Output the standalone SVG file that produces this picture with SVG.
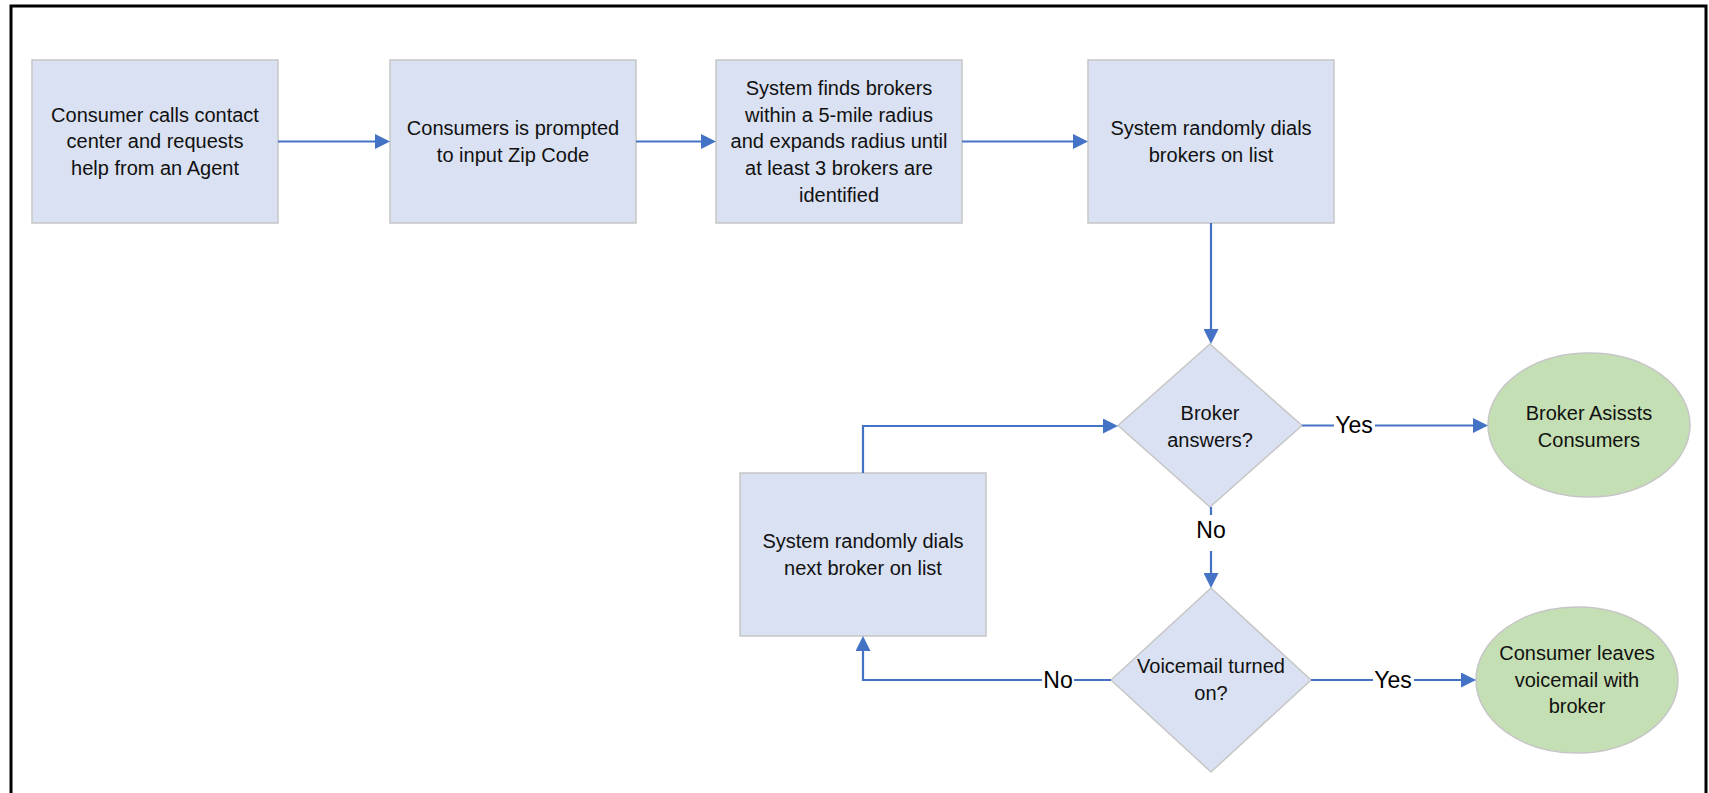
<svg xmlns="http://www.w3.org/2000/svg" width="1709" height="793" viewBox="0 0 1709 793">
<style>
.box{fill:#DAE1F2;stroke:#C6C6C6;stroke-width:1.5}
.term{fill:#C5DFB4;stroke:#C6C6C6;stroke-width:1.5}
.t{font-family:"Liberation Sans",Arial,sans-serif;font-size:20px;fill:#111;text-anchor:middle}
.lbl{font-family:"Liberation Sans",Arial,sans-serif;font-size:23px;fill:#000;text-anchor:middle}
.c{fill:none;stroke:#4472C4;stroke-width:2.2}
.bg{fill:#fff}
</style>
<defs>
<marker id="ah" viewBox="0 0 15 15" refX="10" refY="7.5" markerWidth="15" markerHeight="15" markerUnits="userSpaceOnUse" orient="auto">
<path d="M0,0 L15,7.5 L0,15 z" fill="#4472C4"/>
</marker>
</defs>
<rect x="0" y="0" width="1709" height="793" fill="#fff"/>
<rect id="frame" x="11" y="6" width="1695" height="800" fill="none" stroke="#000" stroke-width="3"/>

<g id="n1">
<rect class="box" x="32" y="60" width="246" height="163"/>
<text class="t" x="155" y="121.7">Consumer calls contact</text>
<text class="t" x="155" y="148.4">center and requests</text>
<text class="t" x="155" y="175.1">help from an Agent</text>
</g>
<g id="n2">
<rect class="box" x="390" y="60" width="246" height="163"/>
<text class="t" x="513" y="135">Consumers is prompted</text>
<text class="t" x="513" y="161.7">to input Zip Code</text>
</g>
<g id="n3">
<rect class="box" x="716" y="60" width="246" height="163"/>
<text class="t" x="839" y="95">System finds brokers</text>
<text class="t" x="839" y="121.7">within a 5-mile radius</text>
<text class="t" x="839" y="148.4">and expands radius until</text>
<text class="t" x="839" y="175.1">at least 3 brokers are</text>
<text class="t" x="839" y="201.8">identified</text>
</g>
<g id="n4">
<rect class="box" x="1088" y="60" width="246" height="163"/>
<text class="t" x="1211" y="135">System randomly dials</text>
<text class="t" x="1211" y="161.7">brokers on list</text>
</g>
<g id="d1">
<polygon class="box" points="1210,344 1302,425.5 1210,507 1118,425.5"/>
<text class="t" x="1210" y="420">Broker</text>
<text class="t" x="1210" y="446.7">answers?</text>
</g>
<g id="e1">
<ellipse class="term" cx="1589" cy="425" rx="101" ry="72"/>
<text class="t" x="1589" y="420">Broker Asissts</text>
<text class="t" x="1589" y="446.7">Consumers</text>
</g>
<g id="n5">
<rect class="box" x="740" y="473" width="246" height="163"/>
<text class="t" x="863" y="548">System randomly dials</text>
<text class="t" x="863" y="574.7">next broker on list</text>
</g>
<g id="d2">
<polygon class="box" points="1211,588 1311,680 1211,772 1111,680"/>
<text class="t" x="1211" y="673">Voicemail turned</text>
<text class="t" x="1211" y="700">on?</text>
</g>
<g id="e2">
<ellipse class="term" cx="1577" cy="680" rx="101" ry="73"/>
<text class="t" x="1577" y="660">Consumer leaves</text>
<text class="t" x="1577" y="686.7">voicemail with</text>
<text class="t" x="1577" y="713.4">broker</text>
</g>

<g id="connectors">
<path class="c" d="M278,141.5 H385" marker-end="url(#ah)"/>
<path class="c" d="M636,141.5 H711" marker-end="url(#ah)"/>
<path class="c" d="M962,141.5 H1083" marker-end="url(#ah)"/>
<path class="c" d="M1211,223 V339" marker-end="url(#ah)"/>
<path class="c" d="M1302,425.5 H1483" marker-end="url(#ah)"/>
<path class="c" d="M1211,507 V583" marker-end="url(#ah)"/>
<path class="c" d="M1311,680 H1471" marker-end="url(#ah)"/>
<path class="c" d="M1111,680 H863 V641" marker-end="url(#ah)"/>
<path class="c" d="M863,473 V426 H1113" marker-end="url(#ah)"/>
<rect class="bg" x="1334" y="410" width="41" height="28"/>
<text class="lbl" x="1354" y="433">Yes</text>
<rect class="bg" x="1195" y="515" width="32" height="36"/>
<text class="lbl" x="1211" y="538">No</text>
<rect class="bg" x="1042" y="666" width="32" height="28"/>
<text class="lbl" x="1058" y="688">No</text>
<rect class="bg" x="1373" y="666" width="41" height="28"/>
<text class="lbl" x="1393" y="688">Yes</text>
</g>
</svg>
